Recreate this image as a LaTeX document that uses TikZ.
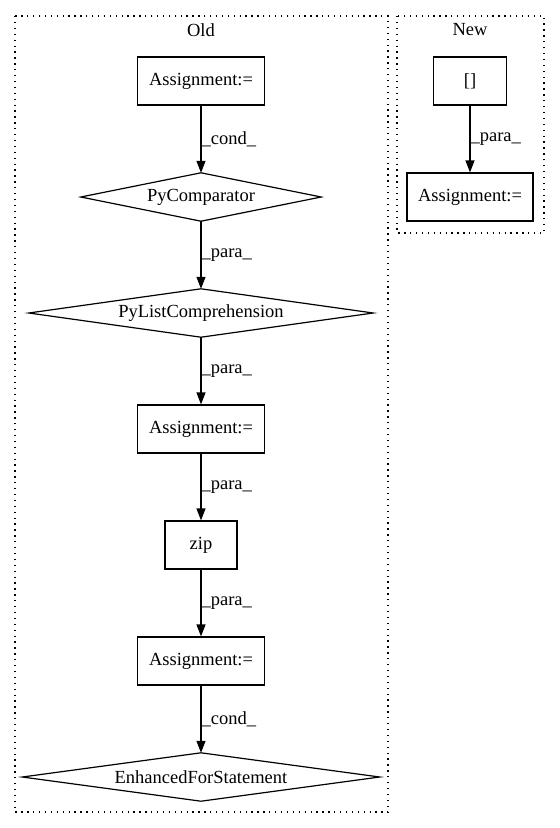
\documentclass[tikz,border=0pt]{standalone}
\usepackage{fontspec}
\setmainfont{Liberation Serif}
\usetikzlibrary{arrows.meta}
\begin{document}
\begin{tikzpicture}[x=1pt,y=-1pt,
  every node/.style={font=\fontsize{18.5}{22}\selectfont},
  box/.style={draw,line width=1.2pt,rectangle,inner sep=0pt},
  diatext/.style={rectangle,inner sep=0pt},
  dialine/.style={line width=1.2pt},
  cluster/.style={line width=1.2pt,dash pattern=on 1.3pt off 4.6pt},
  edge/.style={line width=1.2pt,-{Triangle[length=12pt,width=9pt]}},
  lab/.style={right,inner sep=0pt,pos=0.5}]
\useasboundingbox (0,0) rectangle (560,828);
% clusters
\draw[cluster] (15,16) rectangle (388,812);
\draw[cluster] (397,16) rectangle (544,233);
\node (told) at (201,30) {Old};
\node (tnew) at (470,30) {New};
% old nodes
\node[box,minimum width=127pt,minimum height=48pt] (a1) at (201,81) {Assignment:=};
\node[diatext,minimum width=240pt,minimum height=48pt] (pc) at (201,197) {PyComparator};
\node[diatext,minimum width=344pt,minimum height=48pt] (plc) at (201,313) {PyListComprehension};
\node[box,minimum width=127pt,minimum height=48pt] (a2) at (201,429) {Assignment:=};
\node[box,minimum width=72pt,minimum height=48pt] (zip) at (201,545) {zip};
\node[box,minimum width=127pt,minimum height=48pt] (a3) at (201,661) {Assignment:=};
\node[diatext,minimum width=357pt,minimum height=48pt] (efs) at (201,777) {EnhancedForStatement};
\foreach \n in {pc,plc,efs}
  \draw[dialine] (\n.north) -- (\n.east) -- (\n.south) -- (\n.west) -- cycle;
% new nodes
\node[box,minimum width=73pt,minimum height=48pt] (br) at (470,81) {[]};
\node[box,minimum width=126pt,minimum height=48pt] (a4) at (470,197) {Assignment:=};
% edges
\draw[edge] (a1) -- node[lab] {\_cond\_} (pc);
\draw[edge] (pc) -- node[lab] {\_para\_} (plc);
\draw[edge] (plc) -- node[lab] {\_para\_} (a2);
\draw[edge] (a2) -- node[lab] {\_para\_} (zip);
\draw[edge] (zip) -- node[lab] {\_para\_} (a3);
\draw[edge] (a3) -- node[lab] {\_cond\_} (efs);
\draw[edge] (br) -- node[lab] {\_para\_} (a4);
\end{tikzpicture}
\end{document}
